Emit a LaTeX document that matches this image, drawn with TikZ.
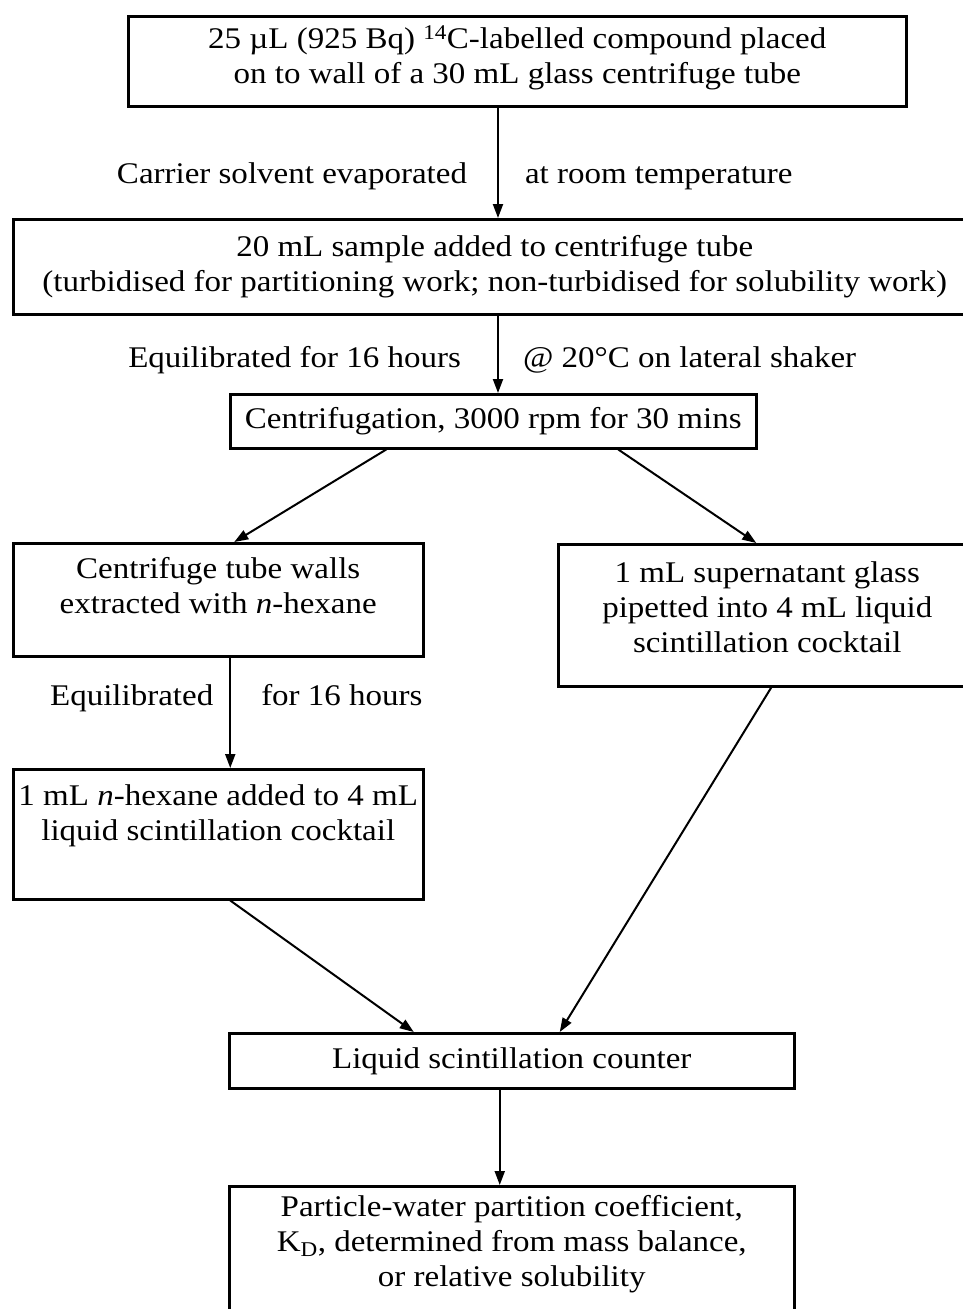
\documentclass[tikz,border=0pt]{standalone}
\usepackage{fontspec}
\setmainfont[FakeStretch=1.1]{Liberation Serif}
\usetikzlibrary{arrows.meta}

\begin{document}
\begin{tikzpicture}[x=1pt,y=-1pt,font=\fontsize{30}{35}\selectfont,
	box/.style={draw,line width=2.5pt,anchor=north west,align=center,inner sep=0pt},
	lbll/.style={inner sep=0pt,anchor=base east},
	lblr/.style={inner sep=0pt,anchor=base west},
	arr/.style={line width=2pt,-{Triangle[length=14pt,width=10pt]}}]
	\useasboundingbox (0,0) rectangle (962,1309);
	\coordinate (spine) at (498,0);
	\node[box,minimum width=778pt,text height=67pt,text depth=23pt] (load) at (127,15)
		{25 µL (925 Bq) \textsuperscript{14}C-labelled compound placed\\on to wall of a 30 mL glass centrifuge tube};
	\node[box,minimum width=963pt,text height=72pt,text depth=23pt] (sample) at (12,218)
		{20 mL sample added to centrifuge tube\\(turbidised for partitioning work; non-turbidised for solubility work)};
	\node[box,minimum width=526pt,text height=34pt,text depth=20pt] (spin) at (229,393)
		{Centrifugation, 3000 rpm for 30 mins};
	\node[box,minimum width=410pt,text height=70pt,text depth=43pt] (walls) at (12,542)
		{Centrifuge tube walls\\extracted with \textit{n}-hexane};
	\node[box,minimum width=418pt,text height=108pt,text depth=34pt] (supern) at (557,543)
		{1 mL supernatant glass\\pipetted into 4 mL liquid\\scintillation cocktail};
	\node[box,minimum width=410pt,text height=71pt,text depth=59pt] (hexane) at (12,768)
		{1 mL \textit{n}-hexane added to 4 mL\\liquid scintillation cocktail};
	\node[box,minimum width=565pt,text height=35pt,text depth=20pt] (counter) at (228,1032)
		{Liquid scintillation counter};
	\node[box,minimum width=565pt,text height=100pt,text depth=45pt] (result) at (228,1185)
		{Particle-water partition coefficient,\\K\textsubscript{D}, determined from mass balance,\\or relative solubility};

	\draw[arr] (load.south -| spine) -- (sample.north -| spine)
		node[lbll,pos=.69,xshift=-30pt] {Carrier solvent evaporated}
		node[lblr,pos=.69,xshift=26pt] {at room temperature};
	\draw[arr] (sample.south -| spine) -- (spin.north -| spine)
		node[lbll,pos=.675,xshift=-36pt] {Equilibrated for 16 hours}
		node[lblr,pos=.675,xshift=24pt] {@ 20°C on lateral shaker};
	\draw[arr] ([xshift=-107pt]spin.south) -- ([xshift=16pt]walls.north);
	\draw[arr] ([xshift=125pt]spin.south) -- ([xshift=-11pt]supern.north);
	\draw[arr] ([xshift=12pt]walls.south) -- ([xshift=12pt]hexane.north)
		node[lbll,pos=.43,xshift=-16pt] {Equilibrated}
		node[lblr,pos=.43,xshift=30pt] {for 16 hours};
	\draw[arr] ([xshift=12pt]hexane.south) -- ([xshift=-98pt]counter.north);
	\draw[arr] ([xshift=4pt]supern.south) -- ([xshift=48pt]counter.north);
	\draw[arr] ([xshift=-12pt]counter.south) -- ([xshift=-12pt]result.north);
\end{tikzpicture}
\end{document}
